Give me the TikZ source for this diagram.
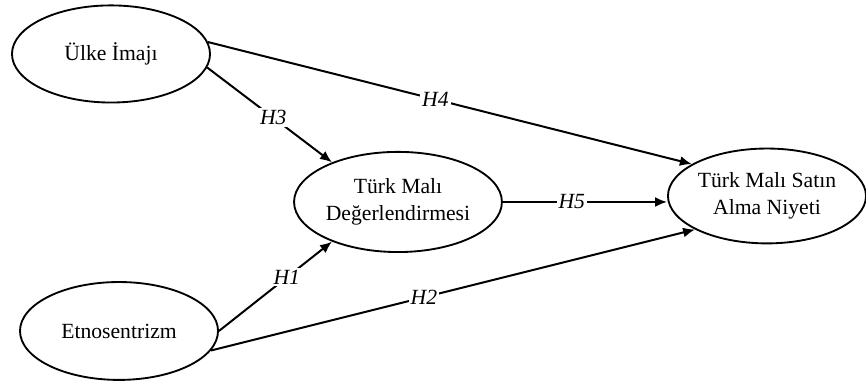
\documentclass[tikz,border=0pt]{standalone}
\usepackage{fontspec}
\setmainfont{Liberation Serif}
\usetikzlibrary{shapes.geometric,arrows.meta}

\tikzset{
  yapi/.style={draw, ellipse, line width=1.4pt, inner sep=0pt, align=center,
    font=\fontsize{16.3}{20}\selectfont},
  yol/.style={line width=1.5pt, -{Latex[length=9pt,width=7.5pt]}},
  hip/.style={fill=white, inner sep=1.5pt, font=\fontsize{16.3}{20}\selectfont\itshape}
}

\begin{document}
\begin{tikzpicture}
\useasboundingbox (0,0) rectangle (22.913,10.080);
% gizil degiskenler
\node[yapi, minimum width=5.24cm, minimum height=2.57cm] (ulke) at (2.937,8.652) {Ülke İmajı};
\node[yapi, minimum width=5.50cm, minimum height=2.65cm] (deger) at (10.530,4.736) {Türk Malı\\Değerlendirmesi};
\node[yapi, minimum width=5.24cm, minimum height=2.59cm] (etno) at (3.149,1.323) {Etnosentrizm};
\node[yapi, minimum width=5.24cm, minimum height=2.51cm] (satin) at (20.293,4.895) {Türk Malı Satın\\Alma Niyeti};
% hipotezler
\draw[yol] (ulke.7) -- node[hip, pos=0.47] {H4} (satin.157);
\draw[yol] (ulke.-8) -- node[hip, pos=0.53] {H3} (deger.149);
\draw[yol] (deger.east) -- node[hip, pos=0.42] {H5} (satin.west |- deger.east);
\draw[yol] (etno.east) -- node[hip, pos=0.6] {H1} (deger.211);
\draw[yol] (etno.-12) -- node[hip, pos=0.44] {H2} (satin.205);
\end{tikzpicture}
\end{document}
